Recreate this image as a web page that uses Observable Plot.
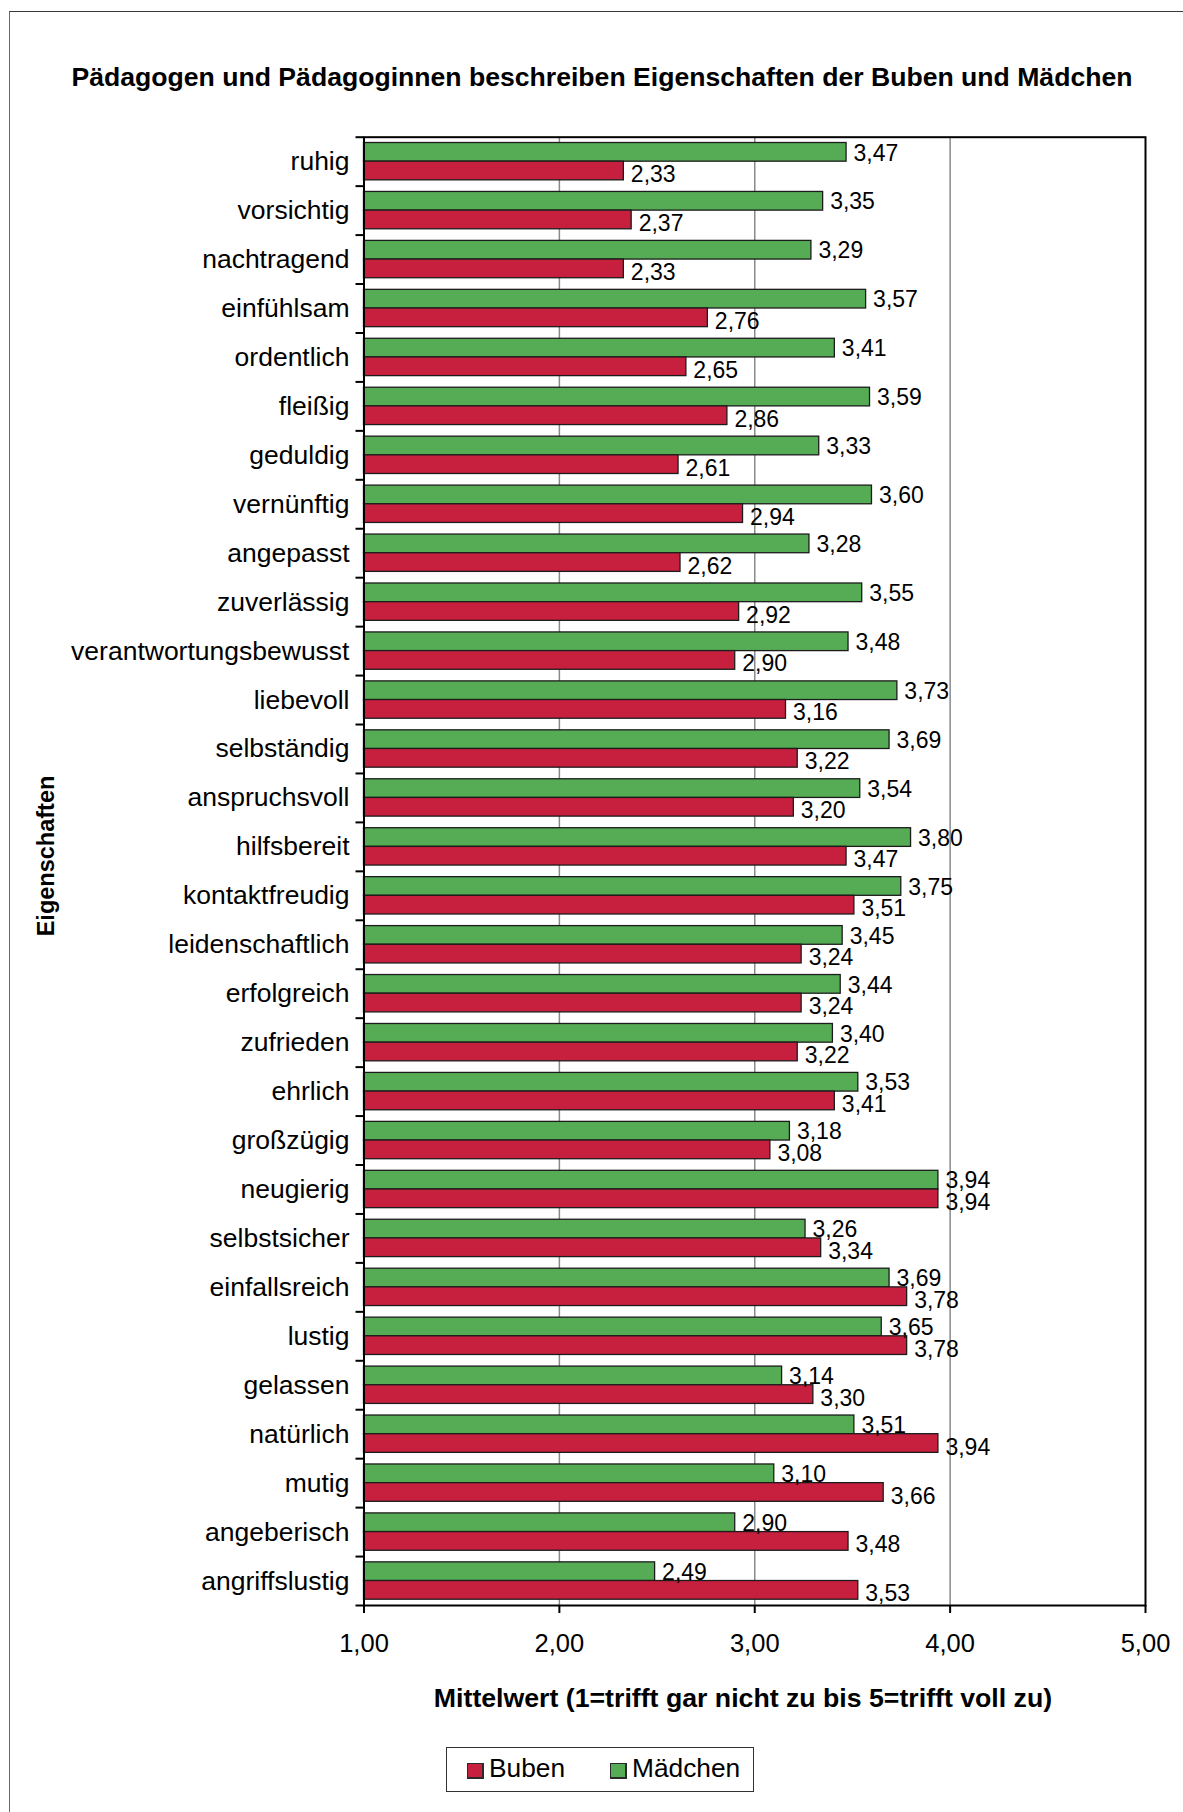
<!DOCTYPE html>
<html lang="de">
<head>
<meta charset="utf-8">
<title>Eigenschaften der Buben und Mädchen</title>
<script src="https://cdn.jsdelivr.net/npm/d3@7"></script>
<script src="https://cdn.jsdelivr.net/npm/@observablehq/plot@0.6"></script>
<style>
  html, body { margin: 0; padding: 0; background: #fff; }
  body { font-family: "Liberation Sans", Arial, sans-serif; color: #000; }
  #page { position: relative; width: 1183px; height: 1812px; overflow: hidden; }
  #border { position: absolute; left: 9px; top: 11px; width: 1400px; height: 2000px;
            border-left: 1.5px solid #6a6a6a; border-top: 1.5px solid #3a3a3a; }
  #title { position: absolute; left: 0; top: 62px; width: 1204px; text-align: center;
           font-weight: bold; font-size: 26.6px; line-height: 30px; white-space: nowrap; }
  #chart { position: absolute; left: 0; top: 120px; }
  #ytitle { position: absolute; left: 46px; top: 856px; font-weight: bold; font-size: 23.5px;
            line-height: 24px; white-space: nowrap;
            transform: translate(-50%, -50%) rotate(-90deg); }
  #xtitle { position: absolute; left: 0; top: 1683px; width: 1486px; text-align: center;
            font-weight: bold; font-size: 26.7px; line-height: 30px; white-space: nowrap; }
  #legend { position: absolute; left: 446px; top: 1747px; width: 306px; height: 43px;
            border: 1.5px solid #333; box-sizing: content-box; }
  .key { position: absolute; top: 13px; font-size: 26.3px; line-height: 28px; white-space: nowrap; }
  .swatch { position: absolute; top: 2px; width: 17px; height: 16px;
            border: 1px solid #2a2a2a; border-right-width: 2px; border-bottom-width: 2px; box-sizing: border-box; }
  .key span.t { position: absolute; left: 22px; top: -7px; }
</style>
</head>
<body>
<div id="page">
  <div id="border"></div>
  <div id="title">Pädagogen und Pädagoginnen beschreiben Eigenschaften der Buben und Mädchen</div>
  <div id="chart"></div>
  <div id="ytitle">Eigenschaften</div>
  <div id="xtitle">Mittelwert (1=trifft gar nicht zu bis 5=trifft voll zu)</div>
  <div id="legend"></div>
</div>
<script>
// Eigenschaften, von oben nach unten
const categories = [
  "ruhig", "vorsichtig", "nachtragend", "einfühlsam", "ordentlich", "fleißig",
  "geduldig", "vernünftig", "angepasst", "zuverlässig", "verantwortungsbewusst",
  "liebevoll", "selbständig", "anspruchsvoll", "hilfsbereit", "kontaktfreudig",
  "leidenschaftlich", "erfolgreich", "zufrieden", "ehrlich", "großzügig",
  "neugierig", "selbstsicher", "einfallsreich", "lustig", "gelassen",
  "natürlich", "mutig", "angeberisch", "angriffslustig"
];

// Mittelwerte Mädchen
const maedchen = [
  3.47, 3.35, 3.29, 3.57, 3.41, 3.59, 3.33, 3.60, 3.28, 3.55, 3.48,
  3.73, 3.69, 3.54, 3.80, 3.75, 3.45, 3.44, 3.40, 3.53, 3.18,
  3.94, 3.26, 3.69, 3.65, 3.14, 3.51, 3.10, 2.90, 2.49
];

// Mittelwerte Buben
const buben = [
  2.33, 2.37, 2.33, 2.76, 2.65, 2.86, 2.61, 2.94, 2.62, 2.92, 2.90,
  3.16, 3.22, 3.20, 3.47, 3.51, 3.24, 3.24, 3.22, 3.41, 3.08,
  3.94, 3.34, 3.78, 3.78, 3.30, 3.94, 3.66, 3.48, 3.53
];

const seriesNames = ["Buben", "Mädchen"];
const seriesColors = ["#c71f3e", "#55ac55"];
const xTicks = [1, 2, 3, 4, 5];
const gridTicks = [2, 3, 4];

const fmt = d => d.toFixed(2).replace(".", ",");

const girls = categories.map((c, i) => ({cat: c, value: maedchen[i]}));
const boys = categories.map((c, i) => ({cat: c, value: buben[i]}));

const width = 1183, height = 1545;
const marginTop = 16.7, marginBottom = 60, marginLeft = 363.5, marginRight = 38;
const band = (height - marginTop - marginBottom) / categories.length;
const gap = 5.8;          // white space above and below each pair of bars
const girlsLabelDy = -8.5; // label offsets from the category centre
const boysLabelDy = 13;
const base = xTicks[0];

const colorOf = name => seriesColors[seriesNames.indexOf(name)];

const chart = Plot.plot({
  width, height, marginTop, marginBottom, marginLeft, marginRight,
  style: {fontFamily: "'Liberation Sans', Arial, sans-serif", background: "transparent", color: "#000"},
  x: {domain: [xTicks[0], xTicks[xTicks.length - 1]]},
  y: {domain: categories, padding: 0, round: false},
  marks: [
    Plot.ruleX(gridTicks, {stroke: "#8a8a8a", strokeWidth: 1.5}),
    Plot.barX(girls, {
      x1: base, x2: "value", y: "cat", fill: colorOf("Mädchen"),
      stroke: "#1c1c1c", strokeWidth: 1.3, insetTop: gap, insetBottom: band / 2
    }),
    Plot.barX(boys, {
      x1: base, x2: "value", y: "cat", fill: colorOf("Buben"),
      stroke: "#1c1c1c", strokeWidth: 1.3, insetTop: band / 2, insetBottom: gap
    }),
    Plot.text(girls, {
      x: "value", y: "cat", text: d => fmt(d.value), textAnchor: "start",
      dx: 7, dy: girlsLabelDy, fontSize: 23, fill: "#000"
    }),
    Plot.text(boys, {
      x: "value", y: "cat", text: d => fmt(d.value), textAnchor: "start",
      dx: 7, dy: boysLabelDy, fontSize: 23, fill: "#000"
    }),
    Plot.frame({stroke: "#000", strokeWidth: 2}),
    Plot.axisX({
      ticks: xTicks, tickFormat: fmt, tickSize: 8, tickPadding: 20,
      fontSize: 25.5, strokeWidth: 2, label: null
    }),
    Plot.axisY({tickSize: 0, tickPadding: 14.5, fontSize: 26.5, label: null}),
    Plot.axisY({tickSize: 8, tickFormat: () => "", strokeWidth: 2, dy: -band / 2, label: null}),
    Plot.axisY({
      ticks: [categories[categories.length - 1]], tickSize: 8, tickFormat: () => "",
      strokeWidth: 2, dy: band / 2, label: null
    })
  ]
});
document.getElementById("chart").append(chart);

// Legende
const legend = document.getElementById("legend");
const legendX = {"Buben": 20, "Mädchen": 163};
for (const name of seriesNames) {
  const key = document.createElement("div");
  key.className = "key";
  key.style.left = legendX[name] + "px";
  const sw = document.createElement("span");
  sw.className = "swatch";
  sw.style.background = colorOf(name);
  const t = document.createElement("span");
  t.className = "t";
  t.textContent = name;
  key.append(sw, t);
  legend.append(key);
}
</script>
</body>
</html>
